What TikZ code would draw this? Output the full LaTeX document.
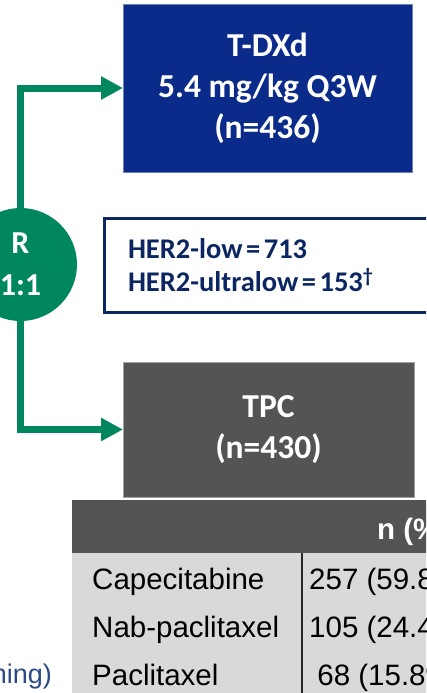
\documentclass[tikz,border=0pt]{standalone}
\usepackage{fontspec}
\setmainfont{Carlito}
\newfontfamily\arialfont{Liberation Sans}
\usetikzlibrary{arrows.meta}
\definecolor{armblue}{HTML}{0A2B8A}
\definecolor{popnavy}{HTML}{0B2660}
\definecolor{randgreen}{HTML}{00875F}
\definecolor{tpcgray}{HTML}{545454}
\definecolor{tablegray}{HTML}{D9D9D9}
\definecolor{noteblue}{HTML}{2B4A86}

\begin{document}
\begin{tikzpicture}[x=1pt,y=-1pt,
  armbox/.style={rectangle,outer sep=0pt,text=white,align=center,line width=0.8pt,font=\fontsize{33.5}{41}\selectfont\bfseries},
  flow/.style={randgreen,line width=7pt,-{Triangle[length=22pt,width=22pt]}},
  cell/.style={anchor=base west,inner sep=0pt,font=\arialfont\fontsize{29.5}{29.5}\selectfont}]
\useasboundingbox (0,0) rectangle (426,693);
\clip (0,0) rectangle (426,693);
\node[armbox,fill=armblue,draw=armblue!60!white,minimum width=289pt,minimum height=168pt] (tdxd) at (267.5,88) {T-DXd\\5.4 mg/kg Q3W\\(n=436)};
\node[armbox,fill=tpcgray,draw=tpcgray!55!white,minimum width=291pt,minimum height=135pt] (tpc) at (268.5,429.5) {TPC\\(n=430)};
\node[circle,fill=randgreen,text=white,minimum size=113pt,inner sep=0pt,outer sep=0pt,align=center,
  font=\fontsize{32}{42}\selectfont\bfseries] (rnd) at (20.5,264.5) {R\\1:1};
\draw[flow] (rnd.north) |- (tdxd.west);
\draw[flow] (rnd.south) |- (tpc.west);
\node[draw=popnavy,line width=3pt,anchor=west,text=popnavy,align=left,text width=290pt,inner xsep=23.5pt,
  minimum height=94pt,font=\fontsize{28.5}{33}\selectfont\bfseries] (her2) at (103,265)
  {HER2-low\kern3.5pt=\kern3.5pt713\\HER2-ultralow\kern3.5pt=\kern3.5pt153\textsuperscript{†}};
% TPC choices table
\fill[tpcgray] (72,500) rectangle (440,553);
\fill[tablegray] (72,553) rectangle (440,700);
\draw[black!85,line width=1.6pt] (302,553) -- (302,700);
\node[anchor=base west,inner sep=0pt,text=white,font=\arialfont\fontsize{29.5}{29.5}\selectfont\bfseries] (hdr) at (377,539) {n (\%)};
\foreach \row/\drug/\num in {589/Capecitabine/257 (59.8\%),637/Nab-paclitaxel/105 (24.4\%),685/Paclitaxel/\ 68 (15.8\%)}{
  \node[cell] (drug-\row) at (92,\row) {\drug};
  \node[cell] (num-\row) at (309,\row) {\num};
}
\node[anchor=base east,inner sep=0pt,text=noteblue,font=\arialfont\fontsize{27}{27}\selectfont] (note) at (52,683) {ning)};
\end{tikzpicture}
\end{document}
